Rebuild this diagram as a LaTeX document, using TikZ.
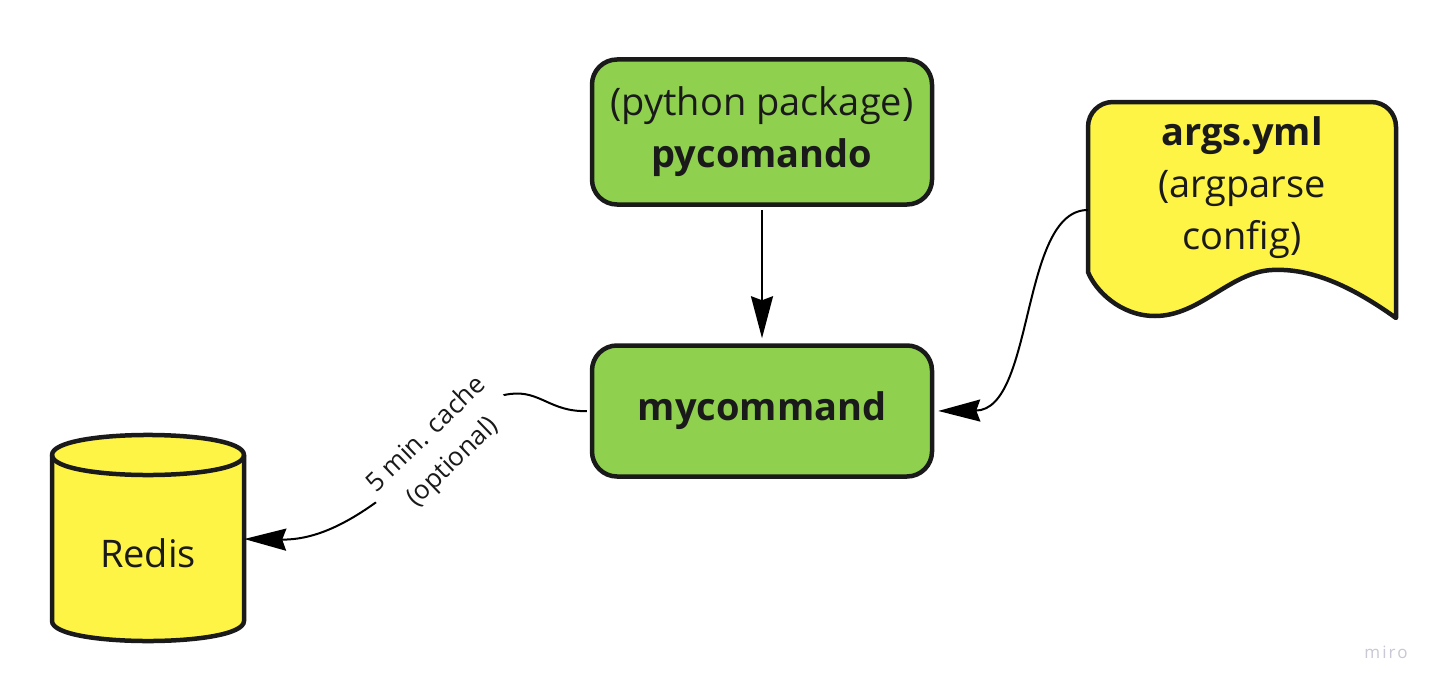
\documentclass[tikz,border=0pt]{standalone}
\usepackage{fontspec}
\setmainfont{Open Sans}
\usetikzlibrary{arrows.meta}
\definecolor{mgreen}{HTML}{8FD14F}
\definecolor{myellow}{HTML}{FEF445}
\definecolor{ink}{HTML}{1A1A1A}
\definecolor{mirogray}{HTML}{C8C8D6}
\begin{document}
\begin{tikzpicture}[x=1pt,y=-1pt,
  box/.style={draw=ink, line width=4.5pt, rounded corners=25pt, fill=mgreen,
    minimum width=340pt, text=ink, align=center, inner sep=0pt,
    font=\fontsize{38}{52}\selectfont},
  txt/.style={text=ink, align=center, inner sep=0pt, font=\fontsize{38}{52}\selectfont},
  shapeline/.style={draw=ink, line width=4.5pt, line join=round},
  conn/.style={draw=black, line width=2pt, -{Stealth[length=42pt,width=22pt,inset=4pt]}},
  lbl/.style={fill=white, align=center, text=ink, inner xsep=6pt, inner ysep=2pt,
    font=\fontsize{26}{38}\selectfont}
  ]
\useasboundingbox (0,0) rectangle (1442,693);
\fill[white] (0,0) rectangle (1442,693);

% green boxes
\node[box, minimum height=145pt] (py) at (762,132) {(python package)\\\textbf{pycomando}};
\node[box, minimum height=131pt] (mc) at (762,411) {\textbf{mycommand}};

% document shape
\draw[shapeline, fill=myellow] (1088,272) -- (1088,127)
  .. controls (1088,113) and (1099,102) .. (1113,102) -- (1371,102)
  .. controls (1385,102) and (1396,113) .. (1396,127) -- (1396,318)
  .. controls (1350,285) and (1310,268) .. (1272,270)
  .. controls (1230,272) and (1200,316) .. (1155,316)
  .. controls (1120,316) and (1095,290) .. (1088,272) -- cycle;
\node[minimum width=308pt, minimum height=216pt, inner sep=0pt] (args) at (1242,210) {};
\node[txt] (argstext) at (1242,188) {\textbf{args.yml}\\(argparse\\config)};

% cylinder
\draw[shapeline, fill=myellow] (52,455) -- (52,621)
  .. controls (52,647.7) and (244,647.7) .. (244,621) -- (244,455)
  .. controls (244,428.3) and (52,428.3) .. (52,455) -- cycle;
\draw[shapeline] (52,455) .. controls (52,481.7) and (244,481.7) .. (244,455);
\node[minimum width=192pt, minimum height=204pt, inner sep=0pt] (redis) at (148,539) {};
\node[txt] (redistext) at (148,553) {Redis};

% connectors
\draw[conn, shorten <=3pt, shorten >=5pt] (py.south) -- (mc.north);
\draw[conn, shorten >=4pt] (args.west) .. controls (1020,210) and (1035,410) .. (mc.east);
\draw[conn, shorten <=3pt] (mc.west) .. controls (550,412) and (540,390) .. (510,394)
  .. controls (470,398) and (420,470) .. (375,503)
  .. controls (340,528) and (310,540) .. (redis.east);
\node[lbl, rotate=44] (cachelbl) at (440,449) {5 min. cache\\(optional)};

% watermark
\node[text=mirogray, inner sep=0pt, font=\fontsize{17}{20}\selectfont\addfontfeature{LetterSpace=12}] (miro) at (1386,652) {miro};
\end{tikzpicture}
\end{document}
